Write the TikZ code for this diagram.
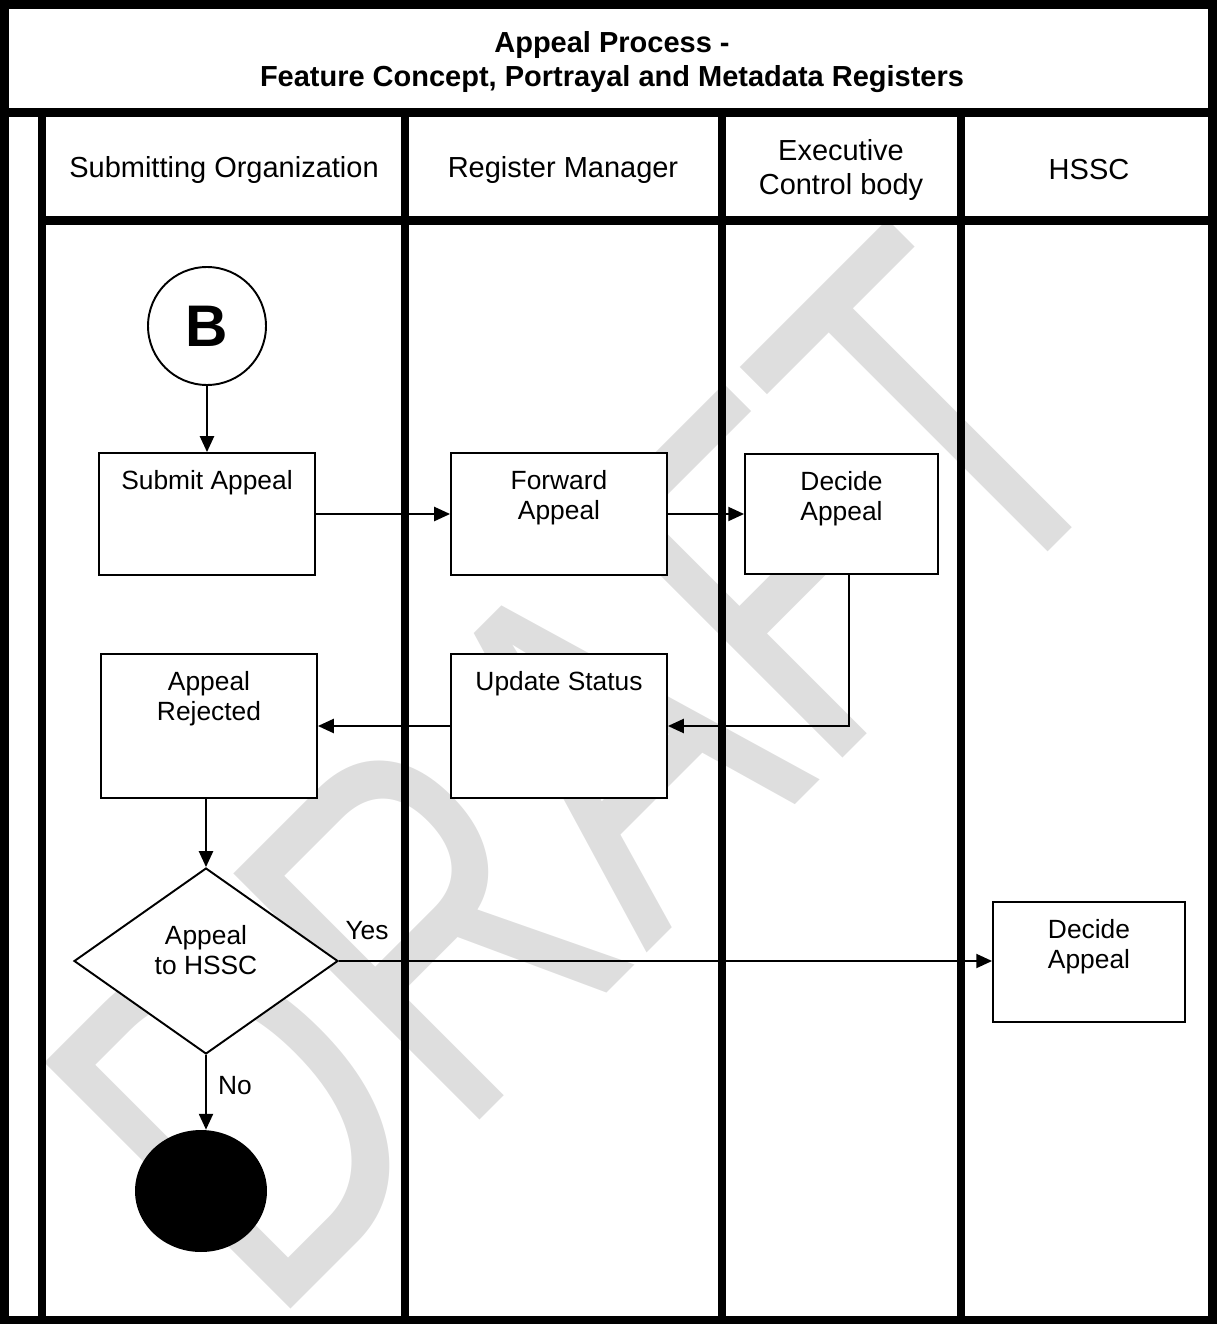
\documentclass[tikz,border=0pt]{standalone}
\usepackage{fontspec}
\setmainfont{Liberation Sans}
\usepackage{xcolor}
\usepackage{tikz}
\usetikzlibrary{shapes.geometric}
\usetikzlibrary{arrows.meta}
\usetikzlibrary{calc}
\definecolor{draftgray}{RGB}{222,222,222}
\newcommand{\boxfont}{\fontsize{15}{17}\selectfont}
\newcommand{\lanefont}{\fontsize{16.5}{19.3}\selectfont}
\tikzstyle{draft} = [text=draftgray, rotate=45, xscale=0.73, inner sep=0pt,
font=\fontsize{288}{300}\selectfont]
\tikzstyle{lane} = [draw=black, line width=0.17cm]
\tikzstyle{lanehead} = [align=center, font=\lanefont]
\tikzstyle{ttl} = [align=center, font=\lanefont\bfseries]
\tikzstyle{procbox} = [draw=black, fill=white, line width=1.1pt,
rectangle, minimum width=4.32cm, minimum height=2.44cm]
\tikzstyle{boxtext} = [anchor=north, align=center, font=\boxfont, yshift=-0.24cm]
\tikzstyle{decision} = [draw=black, fill=white, line width=1.1pt, diamond,
shape aspect=1.4, minimum width=5.28cm, minimum height=3.72cm]
\tikzstyle{flow} = [line width=1.1pt, -{Triangle[length=9pt, width=8pt]}]
\tikzstyle{lbl} = [font=\boxfont]

\begin{document}
\begin{tikzpicture}[x=0.02cm, y=-0.02cm]
        \useasboundingbox (0,0) rectangle (1217,1324);
        \node [draft] (draft) at (582,772) {DRAFT};

        \draw [lane] (4.5,4.5) rectangle (1212.5,1320);
        \draw [lane] (0,112.5) -- (1217,112.5);
        \draw [lane] (42,220.5) -- (1217,220.5);
        \draw [lane] (42,112.5) -- (42,1324);
        \draw [lane] (405,112.5) -- (405,1324);
        \draw [lane] (722,112.5) -- (722,1324);
        \draw [lane] (961,112.5) -- (961,1324);

        \node [ttl] (title) at (612,62) {Appeal Process -\\Feature Concept, Portrayal and Metadata Registers};
        \node [lanehead] (orghead) at (224,170) {Submitting Organization};
        \node [lanehead] (rmhead) at (563,170) {Register Manager};
        \node [lanehead] (echead) at (841,170) {Executive\\Control body};
        \node [lanehead] (hsschead) at (1089,170) {HSSC};

        \node [circle, draw=black, fill=white, line width=1.1pt, minimum size=2.36cm,
            font=\fontsize{33.4}{36}\selectfont\bfseries] (start) at (207,326) {B};
        \node [procbox, label={[boxtext]north:Submit Appeal}] (submit) at (207,514) {};
        \node [procbox, label={[boxtext]north:Forward\\Appeal}] (forward) at (559,514) {};
        \node [procbox, minimum width=3.86cm, minimum height=2.4cm,
            label={[boxtext]north:Decide\\Appeal}] (ecdecide) at (841.5,514) {};
        \node [procbox, minimum height=2.88cm, label={[boxtext]north:Update Status}] (update) at (559,726) {};
        \node [procbox, minimum height=2.88cm, label={[boxtext]north:Appeal\\Rejected}] (rejected) at (209,726) {};
        \node [decision, label={[lbl, align=center, yshift=0.22cm]center:Appeal\\to HSSC}] (tohssc) at (206,961) {};
        \node [procbox, minimum width=3.84cm, minimum height=2.4cm,
            label={[boxtext]north:Decide\\Appeal}] (hsscdecide) at (1089,962) {};
        \node [ellipse, fill=black, minimum width=2.64cm, minimum height=2.44cm] (finish) at (201,1191) {};
        \node [lbl] (yes) at (367,931) {Yes};
        \node [lbl] (no) at (235,1086) {No};

        \draw [flow] (start) -- (start |- submit.north);
        \draw [flow] (submit) -- (forward);
        \draw [flow] (forward) -- (ecdecide);
        \draw [flow] ($(ecdecide.south)+(7.5,0)$) |- (update);
        \draw [flow] (update) -- (rejected);
        \draw [flow] (rejected.south -| tohssc) -- (tohssc);
        \draw [flow] (tohssc) -- (tohssc -| hsscdecide.west);
        \draw [flow] (tohssc) -- (tohssc |- finish.north);
    \end{tikzpicture}
\end{document}
